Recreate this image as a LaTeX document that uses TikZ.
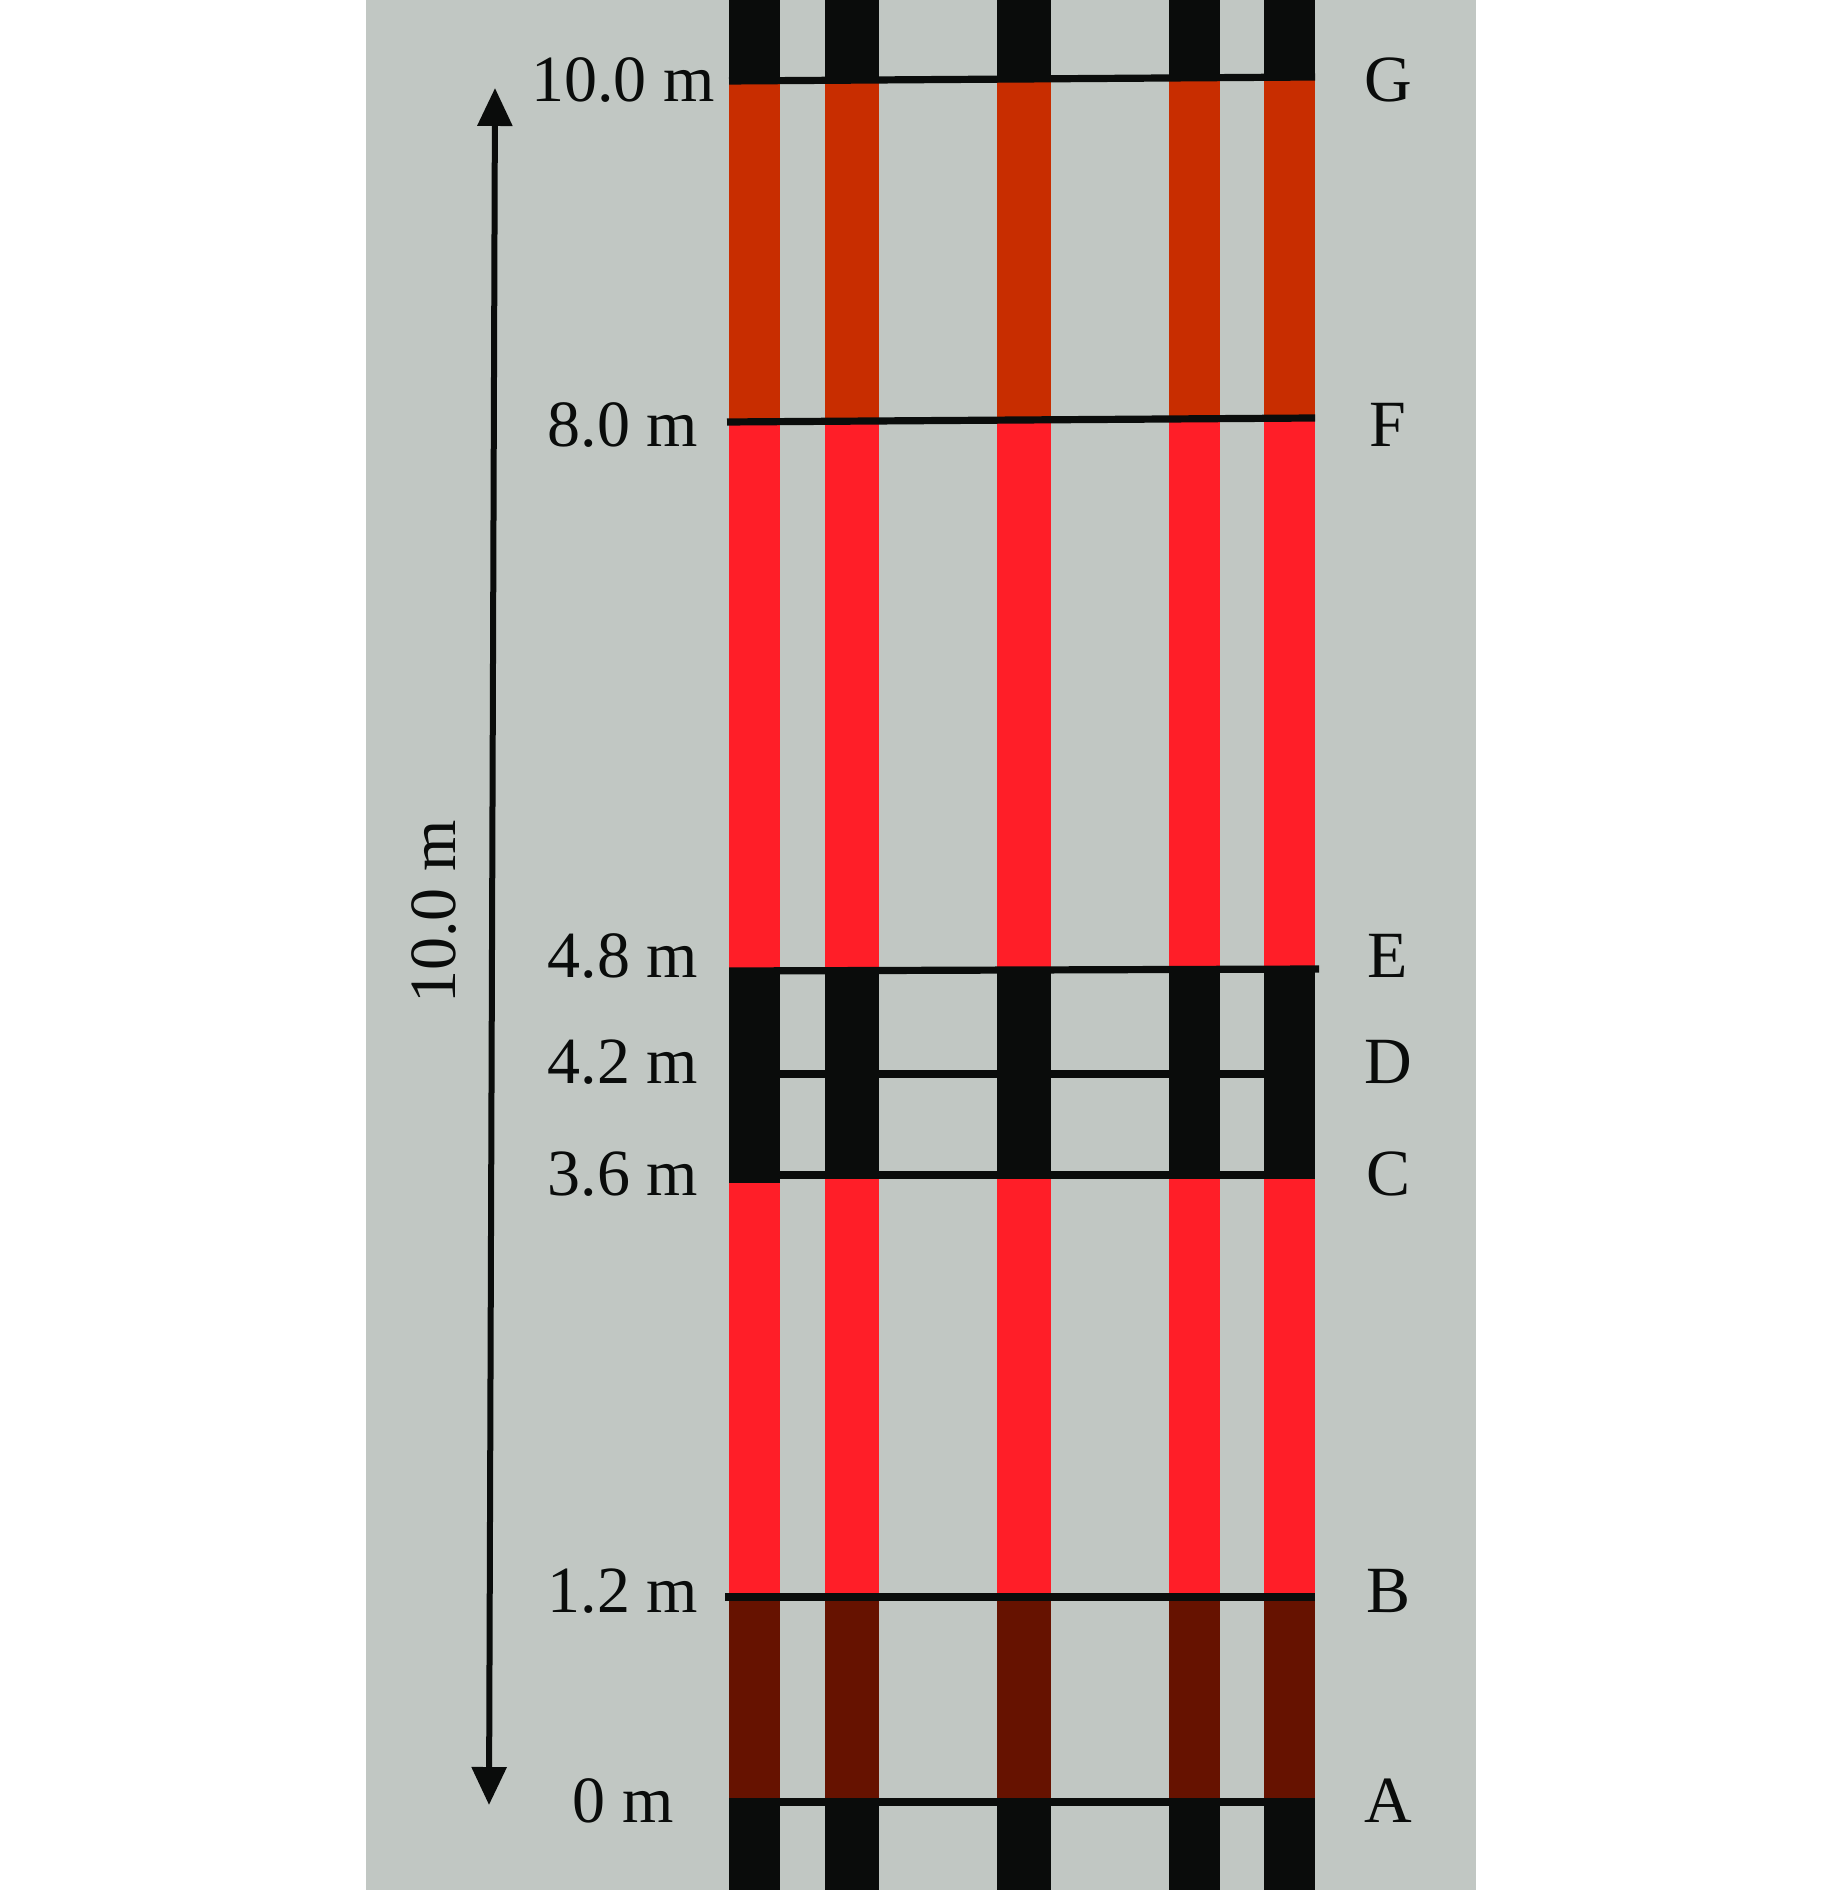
\documentclass[tikz,border=0pt]{standalone}
\usepackage{fontspec}
\setmainfont{Liberation Serif}
\usetikzlibrary{arrows.meta}
\definecolor{bg}{RGB}{193,199,195}
\definecolor{ink}{RGB}{10,12,11}
\definecolor{rust}{RGB}{200,45,0}
\definecolor{brightred}{RGB}{255,30,40}
\definecolor{darkbrown}{RGB}{102,18,0}
\begin{document}
\begin{tikzpicture}[x=0.25pt,y=-0.25pt,
  lvl/.style={font=\fontsize{16.5}{18}\selectfont, anchor=base, inner sep=0pt, text=ink},
  levelline/.style={draw=ink, line width=1.8pt},
  dimarrow/.style={draw=ink, line width=1.5pt,
    {Triangle[length=9.5pt,width=8.5pt]}-{Triangle[length=9.5pt,width=8.5pt]}},
]
\fill[white] (0,0) rectangle (1843,1890);
\useasboundingbox (0,0) rectangle (1843,1890);
\fill[bg] (366,0) rectangle (1476,1890);

% columns
\foreach \l/\r in {729/780,825/879,997/1051,1169/1220,1264/1315}{
  \fill[ink] (\l,0) rectangle (\r,80);
  \fill[rust] (\l,80) rectangle (\r,420);
  \fill[brightred] (\l,420) rectangle (\r,970);
  \fill[ink] (\l,970) rectangle (\r,1178);
  \fill[brightred] (\l,1178) rectangle (\r,1597);
  \fill[darkbrown] (\l,1597) rectangle (\r,1802);
  \fill[ink] (\l,1802) rectangle (\r,1890);
}
\fill[ink] (729,1178) rectangle (780,1183);

% level lines
\coordinate (Gl) at (729,81);  \coordinate (Gr) at (1315,77);
\coordinate (Fl) at (727,422); \coordinate (Fr) at (1315,418);
\coordinate (El) at (729,971); \coordinate (Er) at (1319,969);
\coordinate (Dl) at (729,1074); \coordinate (Dr) at (1315,1074);
\coordinate (Cl) at (729,1175); \coordinate (Cr) at (1315,1175);
\coordinate (Bl) at (725,1597); \coordinate (Br) at (1315,1597);
\coordinate (Al) at (729,1802); \coordinate (Ar) at (1315,1802);
\foreach \p in {G,F,E,D,C,B,A}{
  \draw[levelline] (\p l) -- (\p r);
}

% dimension arrow
\coordinate (atop) at (495,88);
\coordinate (abot) at (489,1805);
\draw[dimarrow] (atop) -- (abot);
\node[lvl, rotate=90] (len) at (455,912) {10.0 m};

% left labels
\node[lvl] (h10) at (623,102) {10.0 m};
\node[lvl] (h8)  at (623,447) {8.0 m};
\node[lvl] (h48) at (623,977) {4.8 m};
\node[lvl] (h42) at (623,1083) {4.2 m};
\node[lvl] (h36) at (623,1195) {3.6 m};
\node[lvl] (h12) at (623,1612) {1.2 m};
\node[lvl] (h0)  at (623,1822) {0 m};

% right letters
\node[lvl] (tG) at (1388,102) {G};
\node[lvl] (tF) at (1388,447) {F};
\node[lvl] (tE) at (1388,977) {E};
\node[lvl] (tD) at (1388,1083) {D};
\node[lvl] (tC) at (1388,1195) {C};
\node[lvl] (tB) at (1388,1612) {B};
\node[lvl] (tA) at (1388,1822) {A};
\end{tikzpicture}
\end{document}
